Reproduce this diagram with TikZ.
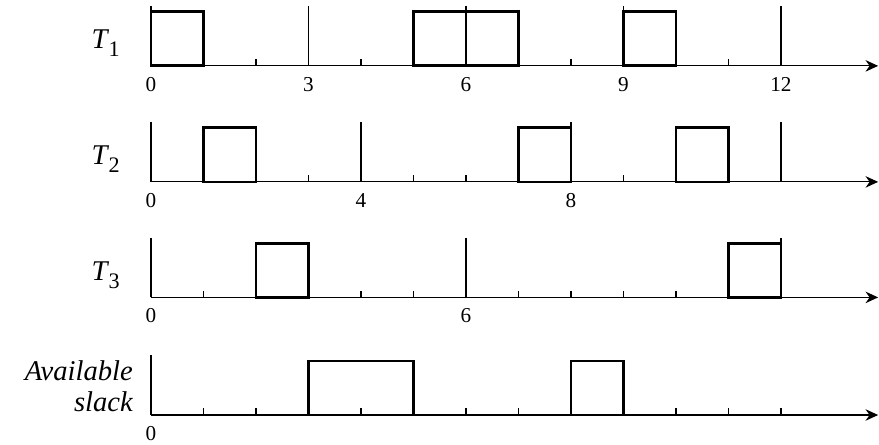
\documentclass[tikz,border=0pt]{standalone}
\usepackage{fontspec}
\setmainfont{Liberation Serif}
\usetikzlibrary{arrows.meta,calc}
\newcommand{\taskname}[1]{T\kern0.04em\raisebox{-0.29em}{\upshape\fontsize{12}{14}\selectfont #1}}
\tikzset{
  timeaxis/.style={-{Stealth[length=2.4mm,width=2.2mm]}, line width=0.6pt},
  periodline/.style={line width=0.6pt},
  tickmark/.style={line width=0.6pt},
  jobbox/.style={draw, line width=1.5pt},
  ticklabel/.style={anchor=base, inner sep=0pt, font=\fontsize{11.5}{13}\selectfont},
  tasklabel/.style={anchor=base east, inner sep=0pt, font=\fontsize{15.5}{18}\selectfont\itshape}
}

\begin{document}
\begin{tikzpicture}
\useasboundingbox (-2.876,-0.571) rectangle (13.867,7.905);
% row origins
\coordinate (oA) at (0,6.65);
\coordinate (oB) at (0,4.44);
\coordinate (oC) at (0,2.24);
\coordinate (oS) at (0,0);
% axes, ticks and period lines
\foreach \o in {oA,oB,oC,oS} {
  \draw[periodline] (\o) -- ++(0,1.14);
  \foreach \t in {1,...,12}
    \draw[tickmark] ($(\o)+(\t,0)$) -- ++(0,0.13);
  \draw[timeaxis] (\o) -- ++(13.85,0);
}
\foreach \t in {3,6,9,12} \draw[periodline] ($(oA)+(\t,0)$) -- ++(0,1.14);
\foreach \t in {4,8,12} \draw[periodline] ($(oB)+(\t,0)$) -- ++(0,1.14);
\foreach \t in {6,12} \draw[periodline] ($(oC)+(\t,0)$) -- ++(0,1.14);
% executions
\foreach \a/\b in {0/1,5/6,6/7,9/10} \draw[jobbox] ($(oA)+(\a,0)$) rectangle ($(oA)+(\b,1.03)$);
\foreach \a/\b in {1/2,7/8,10/11} \draw[jobbox] ($(oB)+(\a,0)$) rectangle ($(oB)+(\b,1.03)$);
\foreach \a/\b in {2/3,11/12} \draw[jobbox] ($(oC)+(\a,0)$) rectangle ($(oC)+(\b,1.03)$);
\foreach \a/\b in {3/5,8/9} \draw[jobbox] ($(oS)+(\a,0)$) rectangle ($(oS)+(\b,1.03)$);
% time labels
\foreach \t in {0,3,6,9,12} \node[ticklabel] (labA\t) at ($(oA)+(\t,-0.48)$) {\t};
\foreach \t in {0,4,8} \node[ticklabel] (labB\t) at ($(oB)+(\t,-0.48)$) {\t};
\foreach \t in {0,6} \node[ticklabel] (labC\t) at ($(oC)+(\t,-0.48)$) {\t};
\node[ticklabel] (labS0) at ($(oS)+(0,-0.48)$) {0};
% task names
\node[tasklabel] (taskA) at ($(oA)+(-0.59,0.33)$) {\taskname{1}};
\node[tasklabel] (taskB) at ($(oB)+(-0.59,0.33)$) {\taskname{2}};
\node[tasklabel] (taskC) at ($(oC)+(-0.59,0.33)$) {\taskname{3}};
\node[tasklabel] (availA) at ($(oS)+(-0.34,0.65)$) {Available};
\node[tasklabel] (availB) at ($(oS)+(-0.34,0.06)$) {slack};
\end{tikzpicture}
\end{document}
